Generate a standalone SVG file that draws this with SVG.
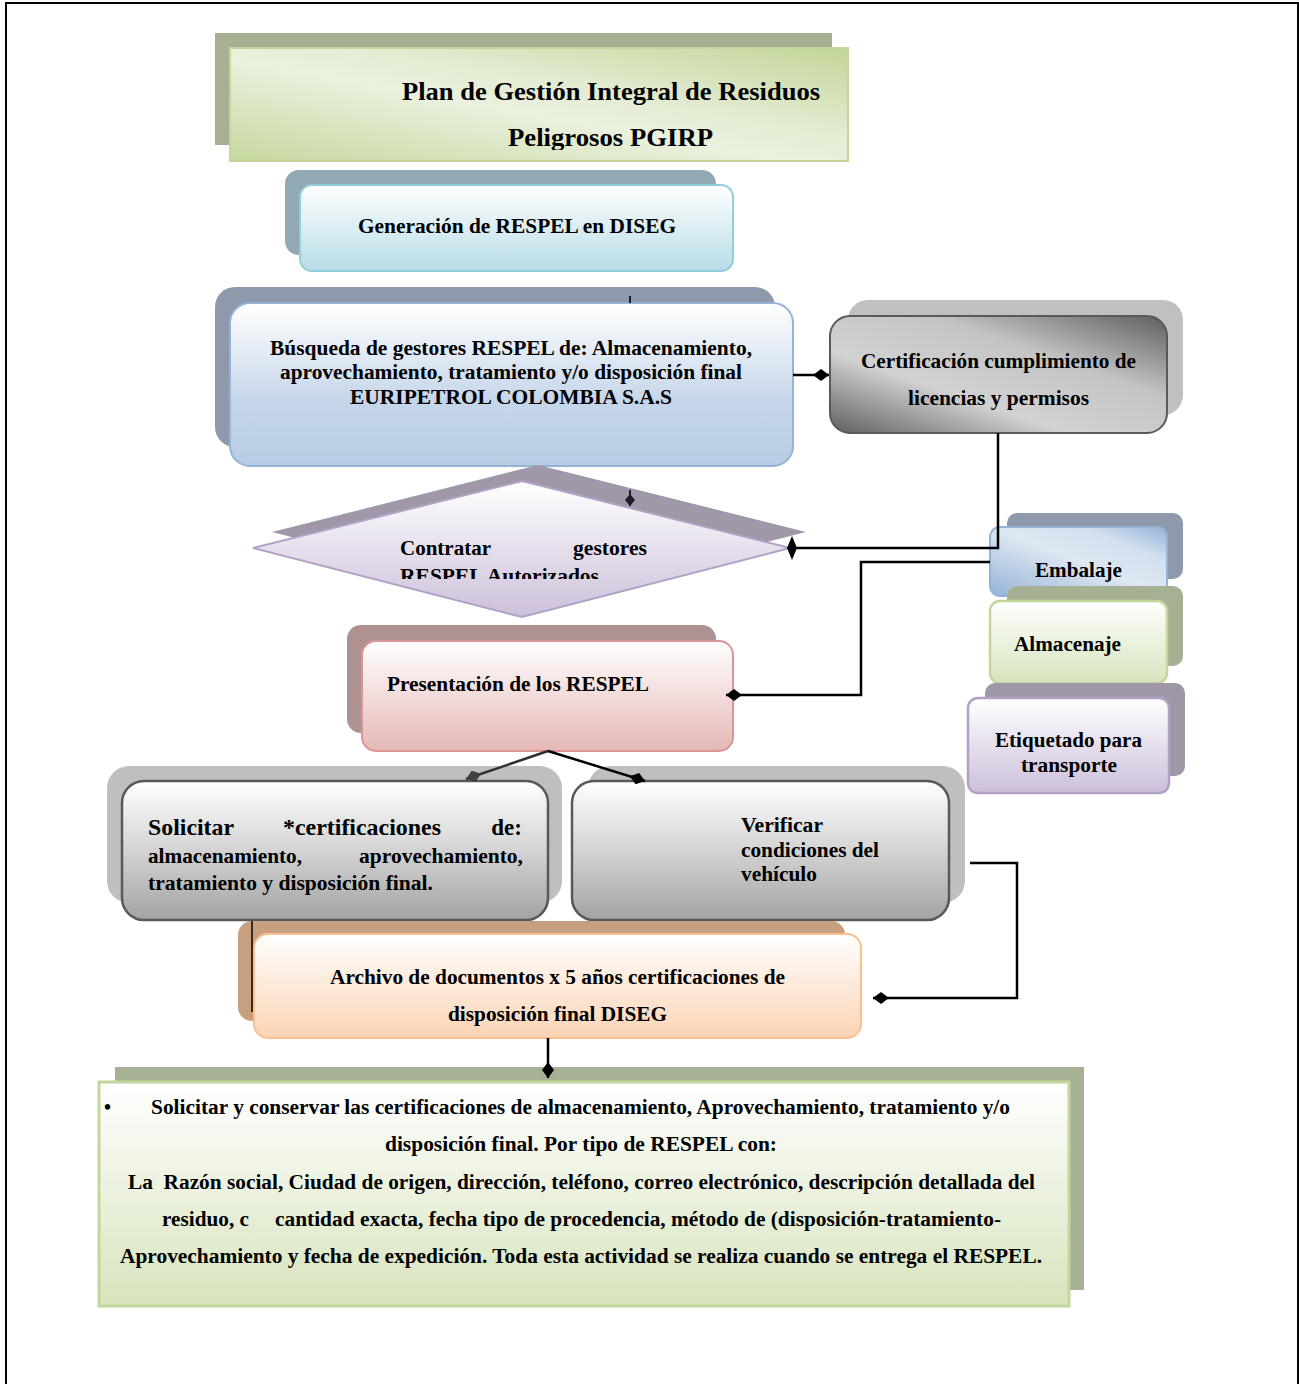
<svg xmlns="http://www.w3.org/2000/svg" width="1299" height="1384" viewBox="0 0 1299 1384">
<style>
text{font-family:"Liberation Serif","Times New Roman",serif;font-weight:bold;fill:#000;}
.t20{font-size:20px;}
.t26{font-size:26px;}
.main{stroke-width:2;}
.conn{fill:none;stroke:#000;stroke-width:2.5;}
</style>
<defs>
<linearGradient id="gTitle" x1="0" y1="1" x2="1" y2="0">
<stop offset="0" stop-color="#c6d79e"/><stop offset="0.45" stop-color="#eaf1de"/><stop offset="0.6" stop-color="#e4ecd3"/><stop offset="1" stop-color="#c3d598"/>
</linearGradient>
<linearGradient id="gBlue" x1="0" y1="0" x2="0" y2="1">
<stop offset="0" stop-color="#ffffff"/><stop offset="1" stop-color="#b7dce7"/>
</linearGradient>
<linearGradient id="gSteel" x1="0" y1="0" x2="0" y2="1">
<stop offset="0" stop-color="#ffffff"/><stop offset="0.6" stop-color="#c6d6ea"/><stop offset="1" stop-color="#b7cce4"/>
</linearGradient>
<linearGradient id="gMetal" x1="0" y1="1" x2="1" y2="0">
<stop offset="0" stop-color="#5e5e5e"/><stop offset="0.35" stop-color="#d2d2d2"/><stop offset="0.65" stop-color="#c4c4c4"/><stop offset="1" stop-color="#5e5e5e"/>
</linearGradient>
<linearGradient id="gEmb" x1="0" y1="1" x2="1" y2="0">
<stop offset="0" stop-color="#95b3d7"/><stop offset="0.5" stop-color="#dde7f2"/><stop offset="0.75" stop-color="#d3e0ef"/><stop offset="1" stop-color="#95b3d7"/>
</linearGradient>
<linearGradient id="gGreen" x1="0" y1="0" x2="0" y2="1">
<stop offset="0" stop-color="#ffffff"/><stop offset="1" stop-color="#d7e4bd"/>
</linearGradient>
<linearGradient id="gViolet" x1="0" y1="0" x2="0" y2="1">
<stop offset="0" stop-color="#ffffff"/><stop offset="1" stop-color="#ccc0da"/>
</linearGradient>
<linearGradient id="gPink" x1="0" y1="0" x2="0" y2="1">
<stop offset="0" stop-color="#ffffff"/><stop offset="1" stop-color="#e5b8b7"/>
</linearGradient>
<linearGradient id="gGray" x1="0" y1="0" x2="0" y2="1">
<stop offset="0" stop-color="#ffffff"/><stop offset="0.45" stop-color="#d8d8d8"/><stop offset="1" stop-color="#a3a3a3"/>
</linearGradient>
<linearGradient id="gPeach" x1="0" y1="0" x2="0" y2="1">
<stop offset="0" stop-color="#ffffff"/><stop offset="1" stop-color="#fbd4b4"/>
</linearGradient>
<linearGradient id="gBottom" x1="0" y1="0" x2="0" y2="1">
<stop offset="0" stop-color="#ffffff"/><stop offset="1" stop-color="#d7e4bd"/>
</linearGradient>
<clipPath id="clipTitle"><rect x="230" y="48" width="618" height="102"/></clipPath>
<clipPath id="clipDia"><rect x="250" y="470" width="560" height="109"/></clipPath>
<marker id="dia" markerUnits="userSpaceOnUse" markerWidth="16" markerHeight="12" refX="16" refY="6" orient="auto" viewBox="0 0 16 12">
<path d="M0,6 L8,0 L16,6 L8,12 z" fill="#000"/>
</marker>
<marker id="diaG" markerUnits="userSpaceOnUse" markerWidth="16" markerHeight="12" refX="16" refY="6" orient="auto" viewBox="0 0 16 12">
<path d="M0,6 L8,0 L16,6 L8,12 z" fill="#404040"/>
</marker>
<marker id="diaS" markerUnits="userSpaceOnUse" markerWidth="12" markerHeight="10" refX="12" refY="5" orient="auto" viewBox="0 0 12 10">
<path d="M0,5 L6,0 L12,5 L6,10 z" fill="#1f1a2e"/>
</marker>
</defs>

<rect x="0" y="0" width="1299" height="1384" fill="#fff"/>
<path d="M6,1390 V3 H1298 V1390" fill="none" stroke="#000" stroke-width="2"/>

<g id="title">
<rect x="215" y="33" width="617" height="112" fill="#a6b092"/>
<rect x="230" y="48" width="618" height="113" fill="url(#gTitle)" stroke="#c3d69b" stroke-width="2"/>
<text class="t26" x="402" y="100" textLength="418" lengthAdjust="spacingAndGlyphs">Plan de Gestión Integral de Residuos</text>
<text class="t26" x="508" y="146" textLength="205" lengthAdjust="spacingAndGlyphs" clip-path="url(#clipTitle)">Peligrosos PGIRP</text>
</g>

<g id="generacion">
<rect x="285" y="170" width="431" height="85" rx="14" fill="#92a9b3"/>
<rect x="300" y="185" width="433" height="86" rx="12" fill="url(#gBlue)" stroke="#92cddc" class="main"/>
<text class="t20" x="358" y="233" textLength="318" lengthAdjust="spacingAndGlyphs">Generación de RESPEL en DISEG</text>
</g>

<g id="busqueda">
<rect x="215" y="287" width="560" height="160" rx="20" fill="#8e9aac"/>
<rect x="230" y="303" width="563" height="163" rx="20" fill="url(#gSteel)" stroke="#95b3d7" class="main"/>
<text class="t20" x="270" y="355" textLength="482" lengthAdjust="spacingAndGlyphs">Búsqueda de gestores RESPEL de: Almacenamiento,</text>
<text class="t20" x="280" y="379" textLength="462" lengthAdjust="spacingAndGlyphs">aprovechamiento, tratamiento y/o disposición final</text>
<text class="t20" x="350" y="404" textLength="322" lengthAdjust="spacingAndGlyphs">EURIPETROL COLOMBIA S.A.S</text>
</g>

<g id="certificacion">
<rect x="848" y="300" width="335" height="115" rx="20" fill="#c0c0c0"/>
<rect x="830" y="316" width="337" height="117" rx="20" fill="url(#gMetal)" stroke="#595959" class="main"/>
<text class="t20" x="861" y="368" textLength="275" lengthAdjust="spacingAndGlyphs">Certificación cumplimiento de</text>
<text class="t20" x="908" y="405" textLength="181" lengthAdjust="spacingAndGlyphs">licencias y permisos</text>
</g>

<g id="contratar">
<polygon points="538,465 806,532 538,600 272,532" fill="#a097a8"/>
<polygon points="522,481 790,548 522,617 253,548" fill="url(#gViolet)" stroke="#b2a1c7" stroke-width="2"/>
<text class="t20" x="400" y="555" textLength="91" lengthAdjust="spacingAndGlyphs">Contratar</text>
<text class="t20" x="573" y="555" textLength="74" lengthAdjust="spacingAndGlyphs">gestores</text>
<text class="t20" x="400" y="583" textLength="199" lengthAdjust="spacingAndGlyphs" clip-path="url(#clipDia)">RESPEL Autorizados</text>
</g>

<g id="embalaje">
<rect x="1007" y="513" width="176" height="66" rx="10" fill="#8e9aac"/>
<rect x="990" y="527" width="177" height="69" rx="10" fill="url(#gEmb)" stroke="#95b3d7" class="main"/>
<text class="t20" x="1035" y="577" textLength="87" lengthAdjust="spacingAndGlyphs">Embalaje</text>
</g>

<g id="almacenaje">
<rect x="1007" y="586" width="176" height="80" rx="10" fill="#a6b092"/>
<rect x="990" y="601" width="177" height="82" rx="10" fill="url(#gGreen)" stroke="#c3d69b" stroke-width="2.5"/>
<text class="t20" x="1014" y="651" textLength="107" lengthAdjust="spacingAndGlyphs">Almacenaje</text>
</g>

<g id="etiquetado">
<rect x="985" y="683" width="200" height="93" rx="10" fill="#a097a8"/>
<rect x="968" y="698" width="201" height="95" rx="10" fill="url(#gViolet)" stroke="#b2a1c7" stroke-width="2.5"/>
<text class="t20" x="995" y="747" textLength="147" lengthAdjust="spacingAndGlyphs">Etiquetado para</text>
<text class="t20" x="1021" y="772" textLength="96" lengthAdjust="spacingAndGlyphs">transporte</text>
</g>

<g id="presentacion">
<rect x="347" y="625" width="369" height="108" rx="14" fill="#ae9292"/>
<rect x="362" y="641" width="371" height="110" rx="14" fill="url(#gPink)" stroke="#d99694" class="main"/>
<text class="t20" x="387" y="691" textLength="262" lengthAdjust="spacingAndGlyphs">Presentación de los RESPEL</text>
</g>

<g id="solicitar">
<rect x="107" y="766" width="455" height="137" rx="22" fill="#bfbfbf"/>
<rect x="122" y="781" width="426" height="139" rx="22" fill="url(#gGray)" stroke="#595959" stroke-width="2.5"/>
<text x="148" y="835" style="font-size:23px" textLength="86" lengthAdjust="spacingAndGlyphs">Solicitar</text>
<text x="283" y="835" style="font-size:23px" textLength="158" lengthAdjust="spacingAndGlyphs">*certificaciones</text>
<text x="522" y="835" style="font-size:23px" text-anchor="end">de:</text>
<text class="t20" x="148" y="863" textLength="154" lengthAdjust="spacingAndGlyphs">almacenamiento,</text>
<text class="t20" x="359" y="863" textLength="164" lengthAdjust="spacingAndGlyphs">aprovechamiento,</text>
<text class="t20" x="148" y="890" textLength="285" lengthAdjust="spacingAndGlyphs">tratamiento y disposición final.</text>
</g>

<g id="verificar">
<rect x="588" y="766" width="377" height="137" rx="22" fill="#bfbfbf"/>
<rect x="572" y="781" width="377" height="139" rx="22" fill="url(#gGray)" stroke="#595959" stroke-width="2.5"/>
<text class="t20" x="741" y="832" textLength="82" lengthAdjust="spacingAndGlyphs">Verificar</text>
<text class="t20" x="741" y="857" textLength="138" lengthAdjust="spacingAndGlyphs">condiciones del</text>
<text class="t20" x="741" y="881" textLength="76" lengthAdjust="spacingAndGlyphs">vehículo</text>
</g>

<g id="archivo">
<rect x="238" y="921" width="607" height="100" rx="14" fill="#c9a07f"/>
<rect x="254" y="934" width="607" height="104" rx="14" fill="url(#gPeach)" stroke="#fac090" class="main"/>
<text class="t20" x="330" y="984" textLength="455" lengthAdjust="spacingAndGlyphs">Archivo de documentos x 5 años certificaciones de</text>
<text class="t20" x="448" y="1021" textLength="219" lengthAdjust="spacingAndGlyphs">disposición final DISEG</text>
</g>

<g id="nota">
<rect x="115" y="1067" width="969" height="223" fill="#a6b092"/>
<rect x="99" y="1082" width="970" height="224" fill="url(#gBottom)" stroke="#c3d69b" stroke-width="3"/>
<text class="t20" x="104" y="1114">•</text>
<text class="t20" x="151" y="1114" textLength="859" lengthAdjust="spacingAndGlyphs">Solicitar y conservar las certificaciones de almacenamiento, Aprovechamiento, tratamiento y/o</text>
<text class="t20" x="385" y="1151" textLength="392" lengthAdjust="spacingAndGlyphs">disposición final. Por tipo de RESPEL con:</text>
<text class="t20" x="128" y="1189" textLength="907" lengthAdjust="spacingAndGlyphs" xml:space="preserve">La  Razón social, Ciudad de origen, dirección, teléfono, correo electrónico, descripción detallada del</text>
<text class="t20" x="162" y="1226" textLength="87" lengthAdjust="spacingAndGlyphs">residuo, c</text>
<text class="t20" x="275" y="1226" textLength="726" lengthAdjust="spacingAndGlyphs">cantidad exacta, fecha tipo de procedencia, método de (disposición-tratamiento-</text>
<text class="t20" x="120" y="1263" textLength="922" lengthAdjust="spacingAndGlyphs">Aprovechamiento y fecha de expedición. Toda esta actividad se realiza cuando se entrega el RESPEL.</text>
</g>

<g id="connectors">
<line x1="630" y1="296" x2="630" y2="303" stroke="#1f1a2e" stroke-width="2"/>
<path class="conn" d="M793,375 H829" marker-end="url(#dia)"/>
<path d="M630,490 V506" fill="none" stroke="#1f1a2e" stroke-width="2" marker-end="url(#diaS)"/>
<path class="conn" d="M998,433 V548 H792"/>
<polygon points="787,548 792,536 797,548 792,560" fill="#000"/>
<path class="conn" d="M990,562 H861 V695 H726" marker-end="url(#dia)"/>
<path d="M548,751 L466,779" fill="none" stroke="#303030" stroke-width="2.5" marker-end="url(#diaG)"/>
<path class="conn" d="M548,751 L645,781" marker-end="url(#dia)"/>
<line x1="252" y1="921" x2="252" y2="1012" stroke="#3a2a1a" stroke-width="2"/>
<path class="conn" d="M970,863 H1017 V998 H873" marker-end="url(#dia)"/>
<path class="conn" d="M548,1038 V1078" marker-end="url(#dia)"/>
</g>
</svg>
